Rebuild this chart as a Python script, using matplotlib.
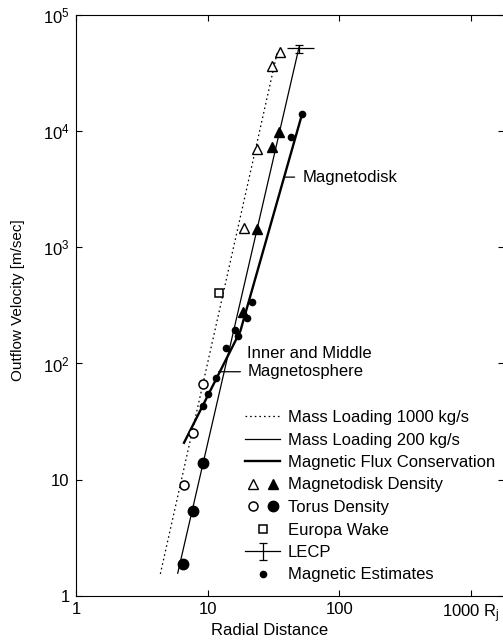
import matplotlib
matplotlib.use("Agg")
import matplotlib.pyplot as plt
from matplotlib.lines import Line2D
from matplotlib.ticker import FixedLocator, NullLocator
from matplotlib.legend_handler import HandlerTuple

plt.rcParams['font.family'] = ['Liberation Sans', 'DejaVu Sans']
plt.rcParams['mathtext.fontset'] = 'custom'
plt.rcParams['mathtext.rm'] = 'Liberation Sans'
plt.rcParams['mathtext.it'] = 'Liberation Sans:italic'

# model curves (radial distance in R_J, velocity in m/s)
loading1000_x = [4.37, 33.8]
loading1000_y = [1.55, 47900]
loading200_x = [5.92, 49.4]
loading200_y = [1.57, 52600]
flux_x = [6.61, 17.7, 52.0]
flux_y = [20.8, 190, 13900]

# magnetodisk density estimates (open / filled)
disk_open_x = [19.0, 23.8, 30.6, 35.4]
disk_open_y = [1470, 6930, 36300, 47900]
disk_fill_x = [18.6, 23.8, 30.8, 35.0]
disk_fill_y = [278, 1430, 7260, 9700]

# torus density estimates (open / filled)
torus_open_x = [6.64, 7.67, 9.26]
torus_open_y = [9.0, 25.2, 66.5]
torus_fill_x = [6.49, 7.78, 9.16]
torus_fill_y = [1.88, 5.38, 13.8]

europa_x = [12.2]
europa_y = [403]

# LECP point with its ranges
lecp_x = [49.4]
lecp_y = [51500]
lecp_xerr = [[9.6], [15.1]]
lecp_yerr = [[4600], [3900]]

# magnetic estimates
est_x = [9.16, 10.0, 11.5, 13.7, 16.1, 17.1, 19.8, 21.8, 42.7, 52.3]
est_y = [43.3, 54.6, 75.4, 136, 194, 172, 244, 340, 8900, 13900]

xticks = [1, 10, 100, 1000]
xticklabels = ['1', '10', '100', r'1000 $\mathregular{R_j}$']
yticks = [1, 10, 100, 1000, 10000, 100000]
yticklabels = ['1', '10', r'$\mathregular{10^2}$', r'$\mathregular{10^3}$',
               r'$\mathregular{10^4}$', r'$\mathregular{10^5}$']

FS = 12
W, H = 503, 642
fig = plt.figure(figsize=(W / 100, H / 100), dpi=100)
ax = fig.add_axes([76 / W, 46 / H, 428 / W, 581.3 / H])
ax.set_xscale('log')
ax.set_yscale('log')
ax.set_xlim(1, 10 ** (428 / 131.7))
ax.set_ylim(1, 1e5)

# lines
ax.plot(loading1000_x, loading1000_y, color='k', lw=0.9, ls=(0, (1.3, 2.4)), zorder=2)
ax.plot(loading200_x, loading200_y, color='k', lw=0.9, zorder=2)
ax.plot(flux_x, flux_y, color='k', lw=1.7, zorder=2)

# markers
h_tri_o, = ax.plot(disk_open_x, disk_open_y, ls='none', marker='^', ms=7,
                   mfc='white', mec='k', mew=1.0, zorder=3)
h_tri_f, = ax.plot(disk_fill_x, disk_fill_y, ls='none', marker='^', ms=7,
                   mfc='k', mec='k', zorder=3)
h_cir_o, = ax.plot(torus_open_x, torus_open_y, ls='none', marker='o', ms=6.5,
                   mfc='white', mec='k', mew=1.1, zorder=3)
h_cir_f, = ax.plot(torus_fill_x, torus_fill_y, ls='none', marker='o', ms=7.5,
                   mfc='k', mec='k', zorder=3)
h_sq, = ax.plot(europa_x, europa_y, ls='none', marker='s', ms=6,
                mfc='white', mec='k', mew=1.1, zorder=3)
ax.errorbar(lecp_x, lecp_y, xerr=lecp_xerr, fmt='none', ecolor='k',
            elinewidth=0.9, capsize=0, zorder=3)
h_lecp = ax.errorbar(lecp_x, lecp_y, yerr=lecp_yerr, fmt='none', ecolor='k',
                     elinewidth=0.9, capsize=3, capthick=0.9, zorder=3)
h_est, = ax.plot(est_x, est_y, ls='none', marker='o', ms=4.5,
                 mfc='k', mec='k', zorder=3)

# region labels
ax.annotate('Magnetodisk', xy=(38.0, 4008), xytext=(52.9, 4008),
            ha='left', va='center', fontsize=FS,
            arrowprops=dict(arrowstyle='-', lw=0.9, color='k', shrinkA=4, shrinkB=0))
ax.text(20.0, 122, 'Inner and Middle', ha='left', va='center', fontsize=FS)
ax.annotate('Magnetosphere', xy=(12.1, 84.9), xytext=(20.0, 84.9),
            ha='left', va='center', fontsize=FS,
            arrowprops=dict(arrowstyle='-', lw=0.9, color='k', shrinkA=3, shrinkB=0))

# axes styling
ax.xaxis.set_major_locator(FixedLocator(xticks))
ax.yaxis.set_major_locator(FixedLocator(yticks))
ax.xaxis.set_minor_locator(NullLocator())
ax.yaxis.set_minor_locator(NullLocator())
ax.set_xticklabels(xticklabels)
ax.set_yticklabels(yticklabels)
ax.tick_params(which='major', direction='in', top=True, right=True,
               length=4.5, width=0.8, labelsize=FS, pad=4.5)
for sp in ax.spines.values():
    sp.set_linewidth(0.8)

ax.set_xlabel('Radial Distance', fontsize=FS)
ax.xaxis.set_label_coords((270 - 76) / 428, -0.047)
ax.set_ylabel('Outflow Velocity [m/sec]', fontsize=11)
ax.yaxis.set_label_coords((25 - 76) / 428, (596 - 300) / 581.3)

# legend
h_dotted = Line2D([], [], color='k', lw=0.9, ls=(0, (1.3, 2.4)))
h_thin = Line2D([], [], color='k', lw=0.9)
h_thick = Line2D([], [], color='k', lw=1.7)
h_hline = Line2D([], [], color='k', lw=0.9)
handles = [h_dotted, h_thin, h_thick, (h_tri_o, h_tri_f), (h_cir_o, h_cir_f),
           h_sq, (h_hline, h_lecp), h_est]
labels = ['Mass Loading 1000 kg/s', 'Mass Loading 200 kg/s',
          'Magnetic Flux Conservation', 'Magnetodisk Density', 'Torus Density',
          'Europa Wake', 'LECP', 'Magnetic Estimates']
hmap = {handles[3]: HandlerTuple(ndivide=None, pad=0.3),
        handles[4]: HandlerTuple(ndivide=None, pad=0.3),
        handles[6]: HandlerTuple(ndivide=1)}
ax.legend(handles, labels, handler_map=hmap, loc='upper left',
          bbox_to_anchor=(245 / W, 1 - 410 / H), bbox_transform=fig.transFigure,
          frameon=False, fontsize=FS, handlelength=2.1, handletextpad=0.45,
          labelspacing=0.45, borderpad=0, borderaxespad=0, numpoints=1)

fig.savefig('out.png', dpi=100)
